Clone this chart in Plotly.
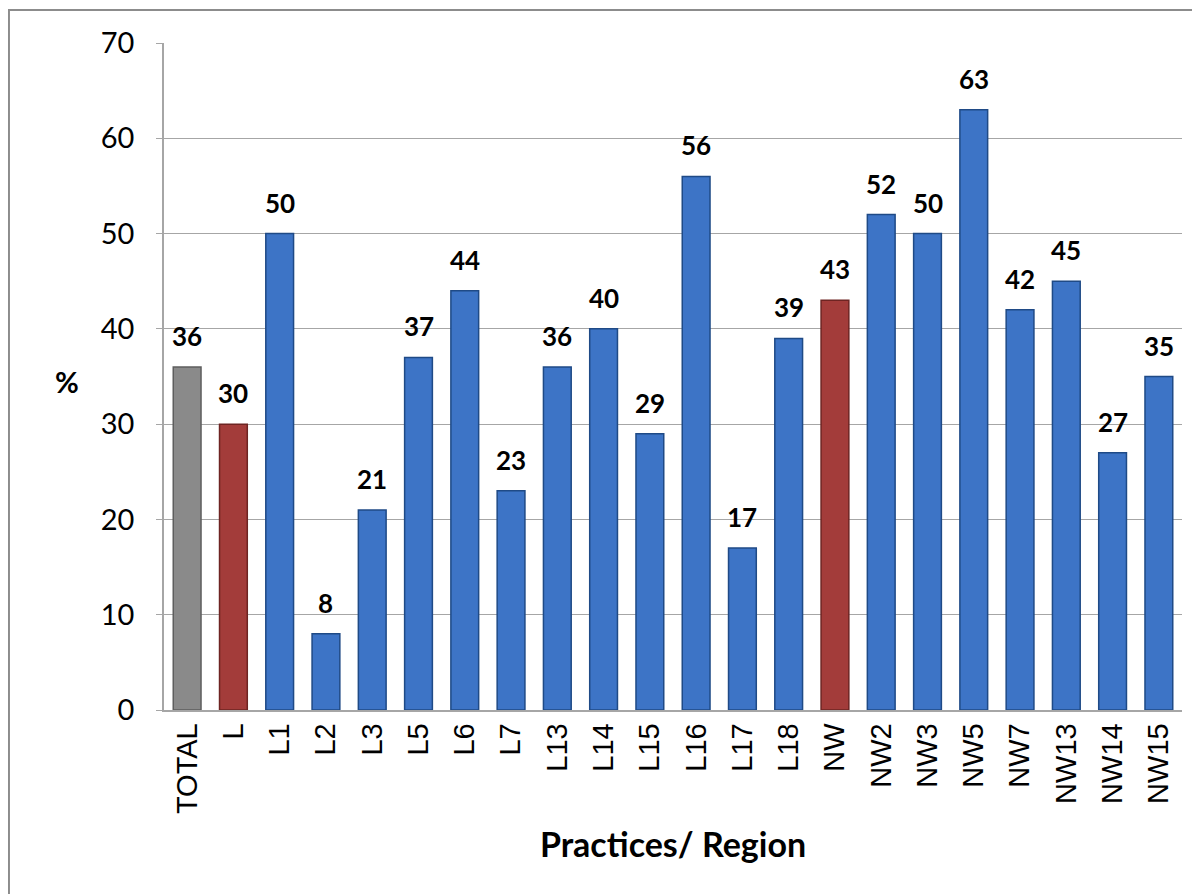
import plotly.graph_objects as go

categories = ["TOTAL", "L", "L1", "L2", "L3", "L5", "L6", "L7", "L13", "L14", "L15",
              "L16", "L17", "L18", "NW", "NW2", "NW3", "NW5", "NW7", "NW13", "NW14", "NW15"]
values = [36, 30, 50, 8, 21, 37, 44, 23, 36, 40, 29,
          56, 17, 39, 43, 52, 50, 63, 42, 45, 27, 35]
groups = ["total", "region", "practice", "practice", "practice", "practice", "practice",
          "practice", "practice", "practice", "practice", "practice", "practice", "practice",
          "region", "practice", "practice", "practice", "practice", "practice", "practice", "practice"]

fill = {"total": "#8a8a8a", "region": "#a33c3a", "practice": "#3d74c6"}
edge = {"total": "#5e5e5e", "region": "#6e2422", "practice": "#1f4a86"}

fig = go.Figure(go.Bar(
    x=categories,
    y=values,
    marker=dict(color=[fill[g] for g in groups],
                line=dict(color=[edge[g] for g in groups], width=1.5)),
))

# value labels above bars
for c, v in zip(categories, values):
    fig.add_annotation(x=c, y=v, text=f"<b>{v}</b>", showarrow=False,
                       yanchor="bottom", yshift=13,
                       font=dict(family="Lato", size=26, color="black"))

# unrotated y-axis title
fig.add_annotation(xref="paper", yref="paper", x=-0.095, y=0.493, text="<b>%</b>",
                   xanchor="center", yanchor="middle",
                   showarrow=False, font=dict(family="Lato", size=29, color="black"))

# page body has an 8px margin, so the figure is shrunk and margins offset by it
fig.update_layout(
    width=1192, height=886,
    margin=dict(l=156, r=18, t=35, b=184),
    paper_bgcolor="white", plot_bgcolor="white",
    bargap=0.4,
    showlegend=False,
    font=dict(family="Lato", color="black"),
    shapes=[dict(type="rect", xref="paper", yref="paper",
                 x0=-0.1523, y0=-0.4, x1=1.1, y1=1.0495,
                 line=dict(color="#8c8c8c", width=2), layer="below")],
)
fig.update_yaxes(range=[0, 70], dtick=10, showgrid=True, gridcolor="#a6a6a6", gridwidth=1,
                 showline=True, linecolor="#a6a6a6", linewidth=1.5,
                 ticks="outside", ticklen=6, tickcolor="#a6a6a6",
                 ticklabelstandoff=16,
                 tickfont=dict(family="Lato", size=29),
                 zeroline=False)
fig.update_xaxes(showline=True, linecolor="#a6a6a6", linewidth=1.5,
                 tickangle=-90, ticks="",
                 tickfont=dict(family="Liberation Sans, Arial", size=29),
                 title=dict(text="<b>Practices/ Region</b>", font=dict(family="Lato", size=34), standoff=20))

fig.write_html("out.html")
